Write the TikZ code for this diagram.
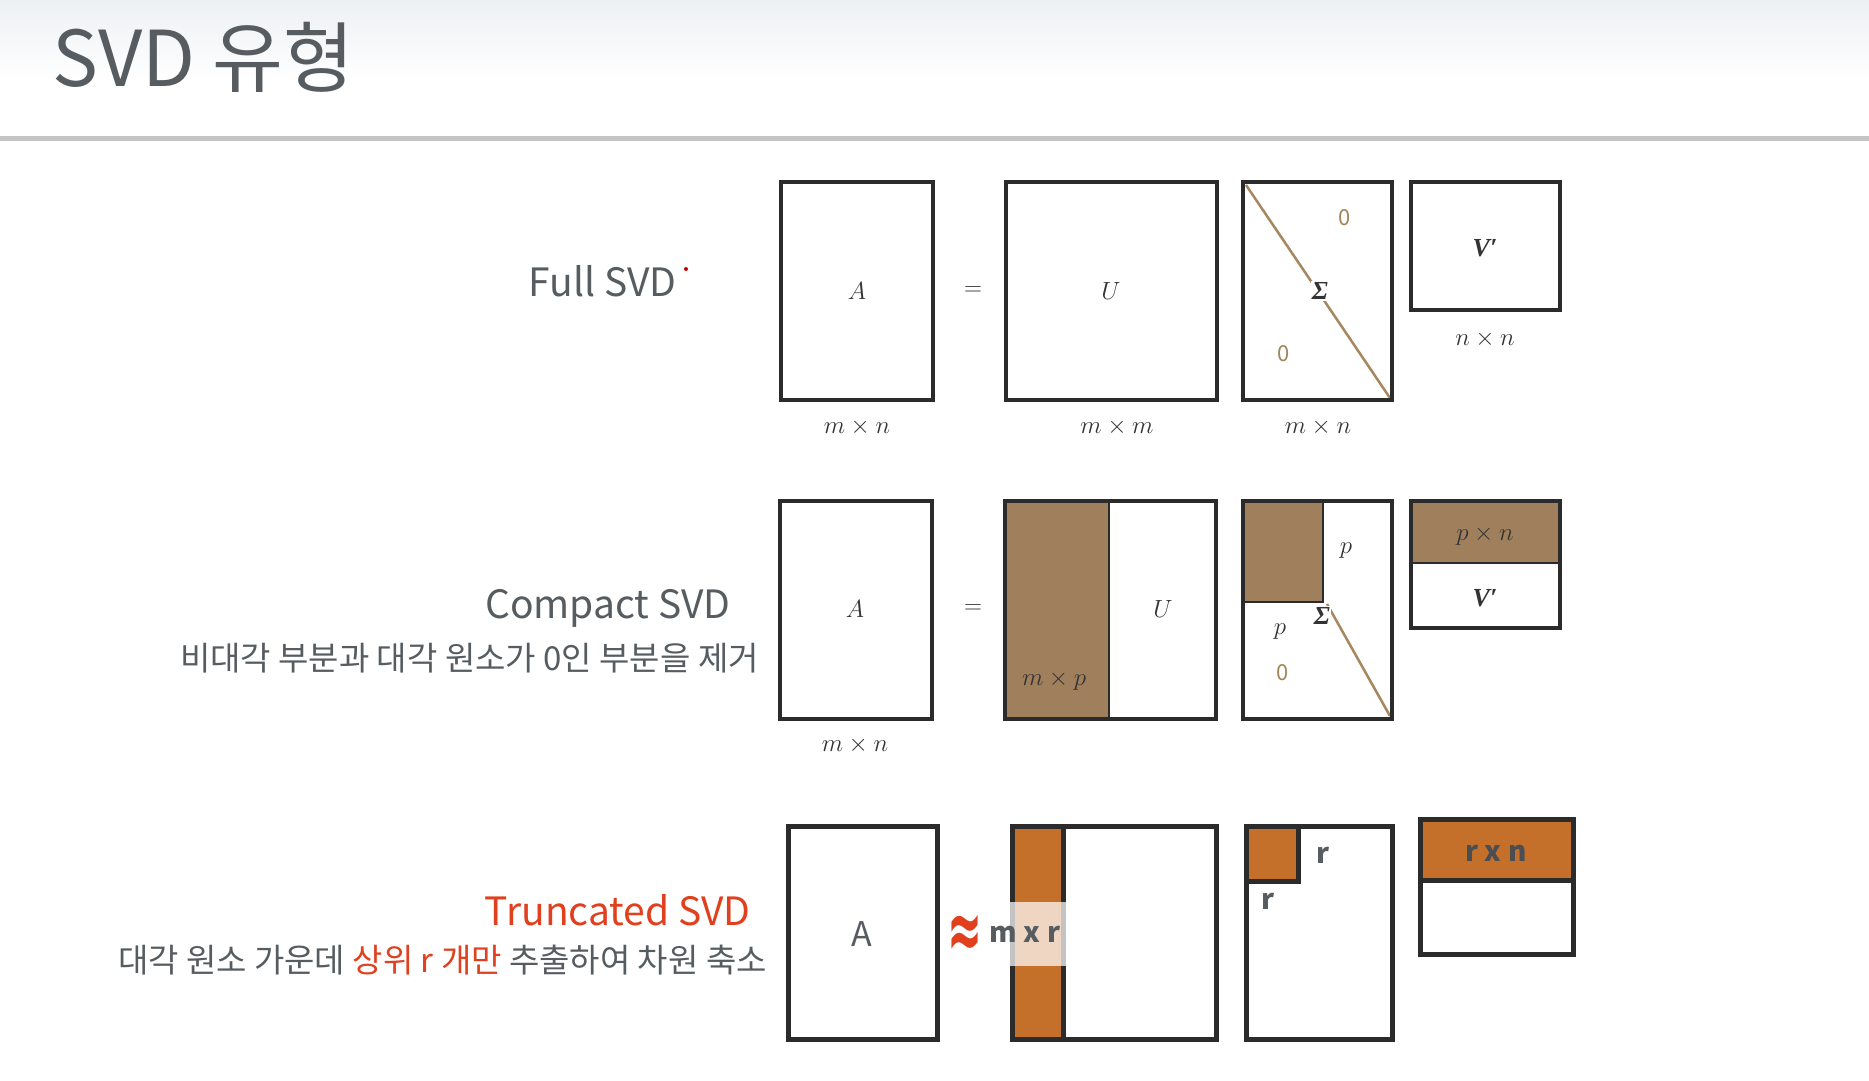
\documentclass[tikz,border=0pt]{standalone}
\usepackage{fontspec}
\setmainfont{Noto Sans CJK KR}
\newfontfamily\dejavu{DejaVu Sans}
\newfontfamily\tserif{Liberation Serif}
\definecolor{boxgray}{HTML}{2B2B2B}
\definecolor{brownfill}{HTML}{A07F5C}
\definecolor{diagbrown}{HTML}{A78760}
\definecolor{zerobrown}{HTML}{A48559}
\definecolor{orfill}{HTML}{C46F2A}
\definecolor{labgray}{HTML}{575C61}
\definecolor{redtxt}{HTML}{E0401E}
\definecolor{mathdark}{HTML}{333333}
\definecolor{linegray}{HTML}{C4C4C4}
\definecolor{topgray}{HTML}{EDF0F3}
\begin{document}
\begin{tikzpicture}[x=1pt,y=-1pt,
  mbox/.style={draw=boxgray, line width=3.5pt},
  tbox/.style={draw=boxgray, line width=5pt},
  mlab/.style={inner sep=0, text=mathdark, font=\fontsize{23}{23}\selectfont},
  dlab/.style={inner sep=0, text=mathdark, font=\fontsize{28}{28}\selectfont},
  blab/.style={inner sep=0, text=mathdark, font=\tserif\bfseries\itshape\fontsize{26}{26}\selectfont},
  zlab/.style={inner sep=0, text=zerobrown, font=\fontsize{22}{22}\selectfont},
  head/.style={inner sep=0, anchor=east, text=labgray, font=\fontsize{39}{39}\selectfont},
  sub/.style={inner sep=0, anchor=east, text=labgray, font=\fontsize{33}{33}\selectfont},
  tlab/.style={inner sep=0, text=labgray, font=\fontsize{28}{28}\selectfont\bfseries}
]
\useasboundingbox (0,0) rectangle (1869,1081);
\fill[white] (0,0) rectangle (1869,1081);
\shade[top color=topgray, bottom color=white] (0,0) rectangle (1869,80);
\fill[linegray] (0,136) rectangle (1869,141);
\node[anchor=base west, inner sep=0, text=labgray, font=\fontsize{77}{77}\selectfont] (title) at (52,87) {SVD 유형};

% ---------- Row 1: Full SVD ----------
\node[head] (full) at (677,281) {Full SVD};
\fill[red!80!black] (686,269) circle (2);
\draw[mbox] (781,182) rectangle (933,400);
\node[mlab] (a1) at (857,291) {$A$};
\node[dlab] (a1d) at (857,427) {$m\times n$};
\node[dlab] (eq1) at (973,291) {$=$};
\draw[mbox] (1006,182) rectangle (1217,400);
\node[mlab] (u1) at (1111,291) {$U$};
\node[dlab] (u1d) at (1117,427) {$m\times m$};
\draw[diagbrown, line width=2.5pt] (1246,185) -- (1390,398);
\draw[mbox] (1243,182) rectangle (1392,400);
\node[blab, fill=white, inner sep=1pt] (s1) at (1320,291) {Σ};
\node[zlab] (z1a) at (1345,218) {0};
\node[zlab] (z1b) at (1284,354) {0};
\node[dlab] (s1d) at (1318,427) {$m\times n$};
\draw[mbox] (1411,182) rectangle (1560,310);
\node[blab] (v1) at (1485,248) {V′};
\node[dlab] (v1d) at (1485,339) {$n\times n$};

% ---------- Row 2: Compact SVD ----------
\node[head] (compact) at (731,608) {Compact SVD};
\node[sub] (compactsub) at (759,658) {비대각 부분과 대각 원소가 0인 부분을 제거};
\draw[mbox] (780,501) rectangle (932,719);
\node[mlab] (a2) at (855,609) {$A$};
\node[dlab] (a2d) at (855,745) {$m\times n$};
\node[dlab] (eq2) at (973,609) {$=$};
\fill[brownfill] (1005,501) rectangle (1109,719);
\draw[boxgray, line width=1.5pt] (1109,501) -- (1109,719);
\draw[mbox] (1005,501) rectangle (1216,719);
\node[dlab] (u2p) at (1054,681) {$m\times p$};
\node[mlab] (u2) at (1163,609) {$U$};
\draw[draw=boxgray, line width=1.5pt, fill=brownfill] (1243,501) rectangle (1323,602);
\draw[diagbrown, line width=2.5pt] (1327,604) -- (1390,716);
\draw[mbox] (1243,501) rectangle (1392,719);
\node[blab, fill=white, inner sep=1pt] (s2) at (1322,616) {Σ};
\node[dlab] (p2a) at (1346,551) {$p$};
\node[dlab] (p2b) at (1280,632) {$p$};
\node[zlab] (z2) at (1283,673) {0};
\fill[brownfill] (1411,501) rectangle (1560,563);
\draw[boxgray, line width=2pt] (1411,563) -- (1560,563);
\draw[mbox] (1411,501) rectangle (1560,628);
\node[dlab] (v2p) at (1485,536) {$p\times n$};
\node[blab] (v2) at (1485,598) {V′};

% ---------- Row 3: Truncated SVD ----------
\node[head, text=redtxt] (trunc) at (751,910) {Truncated SVD};
\node[sub] (truncsub) at (767,960) {대각 원소 가운데 \textcolor{redtxt}{상위 r 개만} 추출하여 차원 축소};
\draw[tbox] (788,826) rectangle (937,1039);
\node[inner sep=0, text=labgray, font=\fontsize{34}{34}\selectfont] (a3) at (862,934) {A};
\fill[orfill] (1012,826) rectangle (1063,1039);
\draw[boxgray, line width=5pt] (1063,826) -- (1063,1039);
\draw[tbox] (1012,826) rectangle (1216,1039);
\fill[white, opacity=0.72] (1009,902) rectangle (1066,966);
\node[inner sep=0, text=redtxt, font=\dejavu\bfseries\fontsize{38}{38}\selectfont] (approx) at (965,937) {\scalebox{1.1}[2.2]{≈}};
\node[tlab] (u3) at (1025,934) {m x r};
\fill[orfill] (1246,826) rectangle (1298,881);
\draw[boxgray, line width=5pt] (1246,881) -- (1298,881) -- (1298,826);
\draw[tbox] (1246,826) rectangle (1392,1039);
\node[tlab] (r3a) at (1323,855) {r};
\node[tlab] (r3b) at (1268,901) {r};
\fill[orfill] (1420,819) rectangle (1573,880);
\draw[boxgray, line width=5pt] (1420,880) -- (1573,880);
\draw[tbox] (1420,819) rectangle (1573,954);
\node[tlab, text=labgray!85!black] (v3) at (1496,853) {r x n};
\end{tikzpicture}
\end{document}
